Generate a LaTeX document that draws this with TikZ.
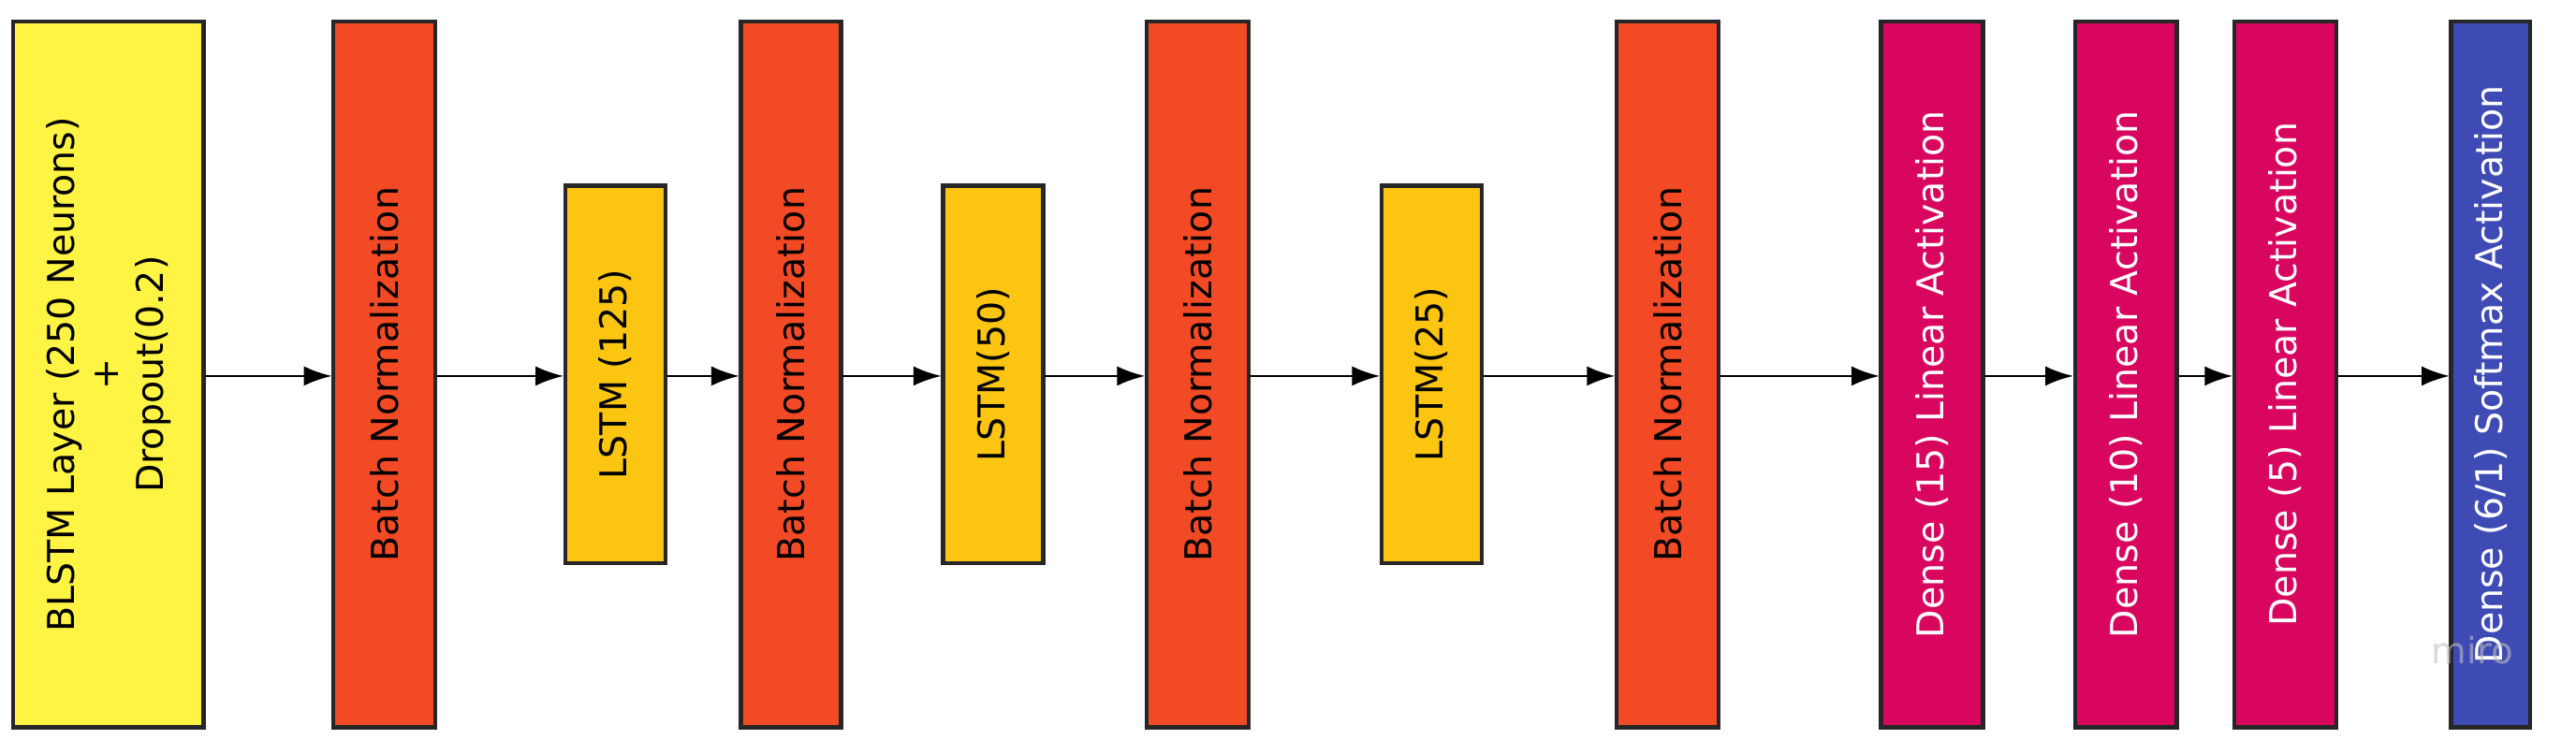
\documentclass[tikz,border=0pt]{standalone}
\usepackage{fontspec}
\setmainfont{DejaVu Sans}
\usetikzlibrary{arrows.meta}
\definecolor{yel}{HTML}{FFF344}
\definecolor{bn}{HTML}{F24A25}
\definecolor{ls}{HTML}{FBC512}
\definecolor{dn}{HTML}{D9065F}
\definecolor{sm}{HTML}{3F4BB5}
\begin{document}
\begin{tikzpicture}[x=1pt,y=-1pt,
 box/.style={draw=black!85,line width=2.5pt,inner sep=0pt},
 lab/.style={rotate=90,font=\fontsize{22.5}{27}\selectfont,align=center},
 arr/.style={-{Latex[length=17pt,width=12pt]},line width=1.5pt}]
\useasboundingbox (0,0) rectangle (1568,459);
\newcommand{\blk}[7]{% name,x1,x2,y1,y2,color,text
 \draw[box,fill=#6] (#2,#4) rectangle (#3,#5);
 \coordinate (#1l) at (#2-1,229); \coordinate (#1r) at (#3+1,229);
 \node[lab] (#1) at ({(#2+#3)/2},{(#4+#5)/2}) {#7};}
\blk{a}{8}{124}{13}{443}{yel}{BLSTM Layer (250 Neurons)\\+\\Dropout(0.2)}
\blk{b}{203}{265}{13}{443}{bn}{Batch Normalization}
\blk{c}{344}{405}{113}{343}{ls}{LSTM (125)}
\blk{d}{451}{512}{13}{443}{bn}{Batch Normalization}
\blk{e}{574}{635}{113}{343}{ls}{LSTM(50)}
\blk{f}{698}{760}{13}{443}{bn}{Batch Normalization}
\blk{g}{841}{902}{113}{343}{ls}{LSTM(25)}
\blk{h}{984}{1046}{13}{443}{bn}{Batch Normalization}
\blk{i}{1145}{1207}{13}{443}{dn}{\color{white}Dense (15) Linear Activation}
\blk{j}{1263}{1325}{13}{443}{dn}{\color{white}Dense (10) Linear Activation}
\blk{k}{1360}{1422}{13}{443}{dn}{\color{white}Dense (5) Linear Activation}
\blk{m}{1492}{1540}{13}{443}{sm}{\color{white}Dense (6/1) Softmax Activation}
\node[text=black!25,opacity=0.6,font=\fontsize{22}{24}\selectfont] (w) at (1505,396) {miro};
\foreach \p/\q in {a/b,b/c,c/d,d/e,e/f,f/g,g/h,h/i,i/j,j/k,k/m}
 \draw[arr] (\p r) -- (\q l);
\end{tikzpicture}
\end{document}
